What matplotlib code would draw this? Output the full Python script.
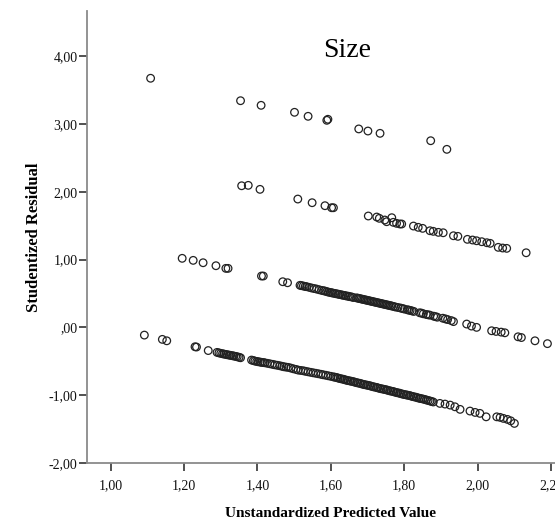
import matplotlib
matplotlib.use("Agg")
import matplotlib.pyplot as plt
from matplotlib.ticker import FuncFormatter

# residual bands (x = predicted value, y = studentized residual)
band1_x = [1.109, 1.354, 1.410, 1.501, 1.538, 1.589, 1.592, 1.676, 1.701, 1.734, 1.872, 1.916]
band1_y = [3.673, 3.342, 3.274, 3.171, 3.112, 3.053, 3.068, 2.926, 2.895, 2.861, 2.752, 2.625]

band2_x = [1.357, 1.375, 1.407, 1.510, 1.549, 1.584, 1.602, 1.607, 1.702, 1.725, 1.732,
           1.747, 1.752, 1.766, 1.770, 1.779, 1.788, 1.793, 1.825, 1.838, 1.850, 1.870,
           1.879, 1.893, 1.906, 1.934, 1.946, 1.972, 1.986, 1.997, 2.011, 2.025, 2.034,
           2.056, 2.068, 2.079, 2.132]
band2_y = [2.088, 2.094, 2.035, 1.892, 1.838, 1.794, 1.764, 1.764, 1.642, 1.627, 1.608,
           1.583, 1.558, 1.617, 1.549, 1.534, 1.524, 1.524, 1.494, 1.475, 1.460, 1.425,
           1.416, 1.401, 1.395, 1.351, 1.342, 1.298, 1.288, 1.277, 1.263, 1.248, 1.239,
           1.180, 1.170, 1.165, 1.100]

band3_x = [1.195, 1.225, 1.252, 1.287, 1.314, 1.320, 1.411, 1.416, 1.469, 1.482,
           1.516, 1.525, 1.534, 1.548, 1.561, 1.575, 1.584, 1.593, 1.602, 1.611,
           1.620, 1.629, 1.638, 1.647, 1.656, 1.670, 1.678, 1.686, 1.694, 1.702,
           1.710, 1.718, 1.726, 1.734, 1.742, 1.750, 1.758, 1.766, 1.776, 1.790,
           1.800, 1.808, 1.816, 1.826, 1.842, 1.852, 1.860, 1.870, 1.880, 1.890,
           1.905, 1.918, 1.928, 1.934, 1.970, 1.983, 1.997, 2.038, 2.050, 2.064,
           2.074, 2.110, 2.119, 2.156, 2.190]
band3_y = [1.018, 0.988, 0.953, 0.909, 0.870, 0.870, 0.757, 0.757, 0.673, 0.658,
           0.620, 0.610, 0.600, 0.580, 0.565, 0.545, 0.535, 0.520, 0.510, 0.500,
           0.490, 0.480, 0.470, 0.460, 0.450, 0.435, 0.425, 0.415, 0.405, 0.395,
           0.385, 0.375, 0.365, 0.355, 0.345, 0.335, 0.325, 0.315, 0.300, 0.285,
           0.270, 0.260, 0.250, 0.235, 0.215, 0.200, 0.190, 0.180, 0.165, 0.150,
           0.135, 0.115, 0.100, 0.085, 0.049, 0.019, 0.000, -0.050, -0.060, -0.070,
           -0.080, -0.139, -0.150, -0.198, -0.240]
# more cases hidden in the dark stretch of band 3
band3b_x = [1.520, 1.530, 1.541, 1.555, 1.568, 1.580, 1.589, 1.598, 1.606, 1.615,
            1.624, 1.633, 1.642, 1.651, 1.661, 1.674, 1.682, 1.690, 1.698, 1.706,
            1.714, 1.722, 1.730, 1.738, 1.746, 1.754, 1.762, 1.771, 1.783, 1.795,
            1.812, 1.821, 1.847, 1.865, 1.885, 1.912]
band3b_y = [0.615, 0.603, 0.590, 0.572, 0.555, 0.540, 0.527, 0.515, 0.505, 0.495,
            0.484, 0.473, 0.463, 0.453, 0.440, 0.430, 0.420, 0.410, 0.400, 0.390,
            0.380, 0.370, 0.360, 0.350, 0.340, 0.330, 0.320, 0.308, 0.293, 0.278,
            0.255, 0.243, 0.210, 0.185, 0.158, 0.125]

band4_x = [1.092, 1.141, 1.153, 1.230, 1.234, 1.266, 1.290, 1.300, 1.309, 1.318,
           1.327, 1.336, 1.345, 1.354, 1.384, 1.393, 1.402, 1.411, 1.420, 1.434,
           1.447, 1.461, 1.472, 1.484, 1.498, 1.511, 1.525, 1.538, 1.552, 1.566,
           1.579, 1.593, 1.607, 1.616, 1.625, 1.634, 1.643, 1.652, 1.661, 1.670,
           1.679, 1.688, 1.697, 1.706, 1.715, 1.724, 1.733, 1.742, 1.751, 1.760,
           1.769, 1.778, 1.787, 1.796, 1.805, 1.814, 1.823, 1.832, 1.841, 1.850,
           1.860, 1.870, 1.879, 1.897, 1.911, 1.925, 1.938, 1.952, 1.979, 1.993,
           2.006, 2.023, 2.052, 2.061, 2.070, 2.081, 2.090, 2.100]
band4_y = [-0.114, -0.177, -0.198, -0.286, -0.290, -0.342, -0.369, -0.383, -0.394, -0.404,
           -0.413, -0.423, -0.434, -0.448, -0.482, -0.497, -0.507, -0.516, -0.522, -0.537,
           -0.552, -0.566, -0.581, -0.590, -0.611, -0.630, -0.640, -0.655, -0.670, -0.684,
           -0.699, -0.714, -0.730, -0.740, -0.755, -0.765, -0.780, -0.790, -0.800, -0.815,
           -0.825, -0.840, -0.850, -0.860, -0.875, -0.885, -0.900, -0.910, -0.920, -0.935,
           -0.945, -0.960, -0.970, -0.985, -0.995, -1.005, -1.020, -1.030, -1.045, -1.055,
           -1.070, -1.085, -1.100, -1.121, -1.131, -1.146, -1.171, -1.209, -1.234, -1.254,
           -1.268, -1.319, -1.319, -1.327, -1.342, -1.357, -1.378, -1.416]
band4b_x = [1.295, 1.305, 1.314, 1.323, 1.332, 1.341, 1.350, 1.389, 1.398, 1.407,
            1.416, 1.427, 1.441, 1.454, 1.467, 1.478, 1.491, 1.505, 1.518, 1.531,
            1.545, 1.559, 1.573, 1.586, 1.600, 1.611, 1.620, 1.629, 1.638, 1.647,
            1.656, 1.665, 1.674, 1.683, 1.692, 1.701, 1.710, 1.719, 1.728, 1.737,
            1.746, 1.755, 1.764, 1.773, 1.782, 1.791, 1.800, 1.809, 1.818, 1.827,
            1.836, 1.845, 1.855, 1.865, 1.874]
band4b_y = [-0.376, -0.389, -0.399, -0.409, -0.418, -0.428, -0.441, -0.490, -0.502, -0.511,
            -0.519, -0.530, -0.545, -0.559, -0.574, -0.586, -0.600, -0.620, -0.635, -0.648,
            -0.663, -0.677, -0.692, -0.706, -0.722, -0.735, -0.748, -0.760, -0.772, -0.785,
            -0.795, -0.808, -0.820, -0.832, -0.845, -0.855, -0.868, -0.880, -0.892, -0.905,
            -0.915, -0.928, -0.940, -0.952, -0.965, -0.978, -0.990, -1.000, -1.012, -1.025,
            -1.038, -1.050, -1.062, -1.078, -1.092]

xticks = [1.0, 1.2, 1.4, 1.6, 1.8, 2.0, 2.2]
yticks = [-2, -1, 0, 1, 2, 3, 4]

plt.rcParams['font.family'] = ['Liberation Serif', 'DejaVu Serif']

fig = plt.figure(figsize=(5.55, 5.23), dpi=100)
ax = fig.add_axes([0.156, 0.1147, 0.844, 0.8643])

xs = band1_x + band2_x + band3_x + band3b_x + band4_x + band4b_x
ys = band1_y + band2_y + band3_y + band3b_y + band4_y + band4b_y
ax.scatter(xs, ys, s=30, facecolors='none', edgecolors='#222222', linewidths=0.9,
           clip_on=False)

ax.set_xlim(0.9346, 2.2106)
ax.set_ylim(-2.0, 4.665)
ax.set_xticks(xticks)
ax.set_yticks(yticks)


def spss_fmt(v, pos):
    s = "%.2f" % v
    s = s.replace(".", ",")
    if s.startswith("0,"):
        s = s[1:]
    if s == "-0,00":
        s = ",00"
    return s


ax.xaxis.set_major_formatter(FuncFormatter(spss_fmt))
ax.yaxis.set_major_formatter(FuncFormatter(spss_fmt))

for side in ['top', 'right']:
    ax.spines[side].set_visible(False)
for side in ['left', 'bottom']:
    ax.spines[side].set_color('#8a8a8a')
    ax.spines[side].set_linewidth(1.3)

ax.tick_params(axis='both', direction='out', length=6, width=1.2, color='#333333',
               labelsize=10, labelcolor='#111111')
ax.tick_params(axis='y', pad=0.5)
ax.tick_params(axis='x', pad=6)

ax.set_xlabel("Unstandardized Predicted Value", fontsize=11, fontweight='bold')
ax.set_ylabel("Studentized Residual", fontsize=12, fontweight='bold')
ax.xaxis.label.set_va('center')
ax.yaxis.label.set_va('center')
ax.xaxis.set_label_coords(0.52, -0.111)
ax.yaxis.set_label_coords(-0.1125, 0.5)

fig.text(0.625, 0.904, "Size", fontsize=20, ha='center', va='center')

fig.savefig("out.png", dpi=100)
